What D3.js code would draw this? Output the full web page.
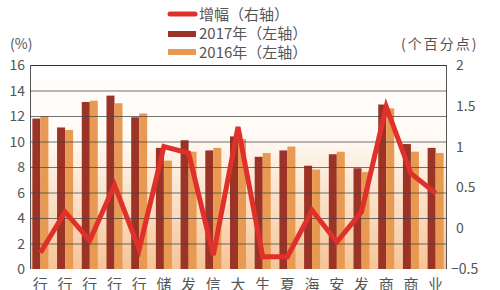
<!DOCTYPE html>
<html><head><meta charset="utf-8">
<script src="https://cdn.jsdelivr.net/npm/d3@7"></script>
<style>body{margin:0;background:#fff;}svg{display:block;}</style>
</head><body><svg id="c" width="500" height="290"></svg>
<script>
const categories = ["行","行","行","行","行","储","发","信","大","生","夏","海","安","发","商","商","业"];
const v2017 = [11.8,11.1,13.1,13.6,11.9,9.5,10.1,9.3,10.4,8.8,9.3,8.1,9.0,7.9,12.9,9.8,9.5];
const v2016 = [12.0,10.9,13.2,13.0,12.2,8.5,9.2,9.5,10.2,9.1,9.6,7.8,9.2,7.6,12.6,9.2,9.1];
const change = [-0.3,0.2,-0.15,0.53,-0.26,1.0,0.92,-0.33,1.24,-0.35,-0.35,0.22,-0.17,0.2,1.49,0.67,0.43];
const leftTicks = [0,2,4,6,8,10,12,14,16];
const rightTicks = [2,1.5,1,0.5,0,-0.5];
const legendLabels = ["增幅（右轴）","2017年（左轴）","2016年（左轴）"];

const svg = d3.select("#c");
const font = "'Noto Sans CJK SC','Noto Sans',sans-serif";
const L=30,R=446,T=65,B=269;
const x = d3.scalePoint().domain(d3.range(categories.length)).range([L,R]).padding(0.42);
const yL = d3.scaleLinear().domain([0,16]).range([B,T]);
const yR = d3.scaleLinear().domain([-0.5,2]).range([B,T]);

const defs = svg.append("defs");
const g = defs.append("linearGradient").attr("id","bg").attr("x1",0).attr("y1",0).attr("x2",0).attr("y2",1);
g.append("stop").attr("offset","0%").attr("stop-color","#ffffff");
g.append("stop").attr("offset","35%").attr("stop-color","#fffaf5");
g.append("stop").attr("offset","100%").attr("stop-color","#f6c497");
svg.append("rect").attr("x",L).attr("y",T).attr("width",R-L).attr("height",B-T).attr("fill","url(#bg)");

const bw = 8;
svg.append("g").selectAll("rect").data(v2017).join("rect")
  .attr("x",(d,i)=>x(i)-bw).attr("y",d=>yL(d)).attr("width",bw).attr("height",d=>B-yL(d)).attr("fill","#9c3327");
svg.append("g").selectAll("rect").data(v2016).join("rect")
  .attr("x",(d,i)=>x(i)).attr("y",d=>yL(d)).attr("width",bw).attr("height",d=>B-yL(d)).attr("fill","#e89a52");

// gridlines
svg.append("g").selectAll("line").data(leftTicks.filter(d=>d>0&&d<16)).join("line")
  .attr("x1",L).attr("x2",R).attr("y1",d=>yL(d)+0.5).attr("y2",d=>yL(d)+0.5)
  .attr("stroke","#444").attr("stroke-opacity",0.75).attr("stroke-width",1);
// border
svg.append("line").attr("x1",L).attr("x2",R).attr("y1",T+0.5).attr("y2",T+0.5).attr("stroke","#333").attr("stroke-width",1.2);
svg.append("line").attr("x1",R+0.5).attr("x2",R+0.5).attr("y1",T).attr("y2",B).attr("stroke","#555");
svg.append("line").attr("x1",L+0.5).attr("x2",L+0.5).attr("y1",T).attr("y2",B).attr("stroke","#555");

// line
const line = d3.line().x((d,i)=>x(i)).y(d=>yR(d));
svg.append("path").datum(change).attr("d",line).attr("fill","none")
  .attr("stroke","#e0302a").attr("stroke-width",5).attr("stroke-linejoin","miter").attr("stroke-linecap","butt");

// axes labels
const tc="#555";
svg.append("g").selectAll("text").data(leftTicks).join("text")
  .attr("x",25).attr("y",d=>yL(d)+5).attr("text-anchor","end").attr("font-family",font).attr("font-size",14).attr("fill",tc).text(d=>d);
svg.append("g").selectAll("text").data(rightTicks).join("text")
  .attr("x",d=>d<0?451:456).attr("y",d=>yR(d)+5).attr("text-anchor","start").attr("font-family",font).attr("font-size",14).attr("fill",tc)
  .text(d=>d<0?"−"+Math.abs(d):String(d));
svg.append("text").attr("x",10).attr("y",49).attr("font-family",font).attr("font-size",14).attr("fill",tc).text("(%)");
svg.append("text").attr("x",401).attr("y",49).attr("letter-spacing",2)
  .attr("font-family",font).attr("font-size",14).attr("fill",tc).text("(个百分点)");

// categories
svg.append("g").selectAll("text").data(categories).join("text")
  .attr("x",(d,i)=>x(i)).attr("y",290).attr("text-anchor","middle").attr("font-family",font).attr("font-size",15).attr("fill",tc).text(d=>d);

// legend
const lg = svg.append("g").attr("font-family",font).attr("font-size",15).attr("fill",tc);
lg.append("line").attr("x1",170).attr("x2",195).attr("y1",14).attr("y2",14).attr("stroke","#e0302a").attr("stroke-width",5).attr("stroke-linecap","round");
lg.append("rect").attr("x",168).attr("y",31).attr("width",28).attr("height",6).attr("fill","#9c3327");
lg.append("rect").attr("x",168).attr("y",49).attr("width",28).attr("height",6).attr("fill","#e89a52");
lg.selectAll("text").data(legendLabels).join("text").attr("x",199).attr("y",(d,i)=>20+i*19).text(d=>d);
</script></body></html>
